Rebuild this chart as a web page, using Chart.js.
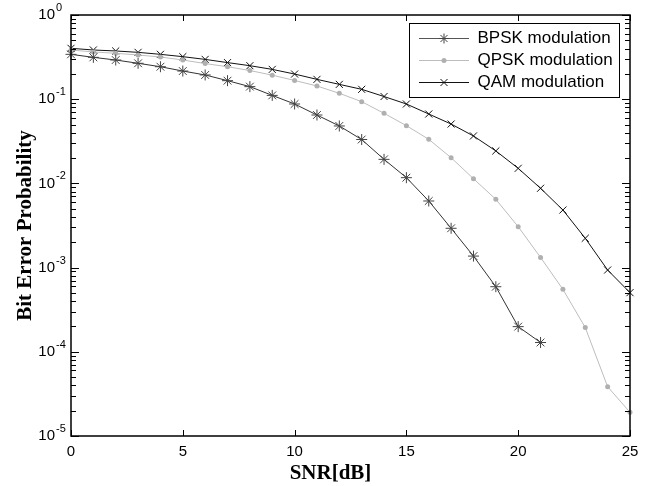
<!DOCTYPE html>
<html>
<head>
<meta charset="utf-8">
<script src="https://cdn.jsdelivr.net/npm/chart.js@4"></script>
<style>
  html, body { margin: 0; padding: 0; background: #fff; }
  #wrap { width: 651px; height: 486px; }
</style>
</head>
<body>
<div id="wrap"><canvas id="c" width="651" height="486"></canvas></div>
<script>
// ---- data ----
const snr = [0,1,2,3,4,5,6,7,8,9,10,11,12,13,14,15,16,17,18,19,20,21,22,23,24,25];
const bpsk = [0.341,0.314,0.292,0.267,0.243,0.216,0.194,0.166,0.141,0.111,0.0877,0.0649,0.0481,0.0332,0.0193,0.0117,0.00618,0.00293,0.00137,0.000593,0.000199,0.000129];
const qpsk = [0.384,0.364,0.351,0.335,0.317,0.292,0.265,0.243,0.219,0.193,0.167,0.1435,0.1175,0.0935,0.068,0.0485,0.0334,0.0202,0.01137,0.00647,0.00306,0.00132,0.000552,0.000194,0.0000385,0.0000191];
const qam = [0.402,0.384,0.374,0.360,0.341,0.320,0.297,0.272,0.250,0.226,0.199,0.172,0.150,0.131,0.1076,0.0877,0.0667,0.0507,0.0366,0.0243,0.0151,0.00875,0.00483,0.00223,0.000936,0.000504];
const seriesNames = ['BPSK modulation','QPSK modulation','QAM modulation'];
const xTicks = [0,5,10,15,20,25];
const yTickExponents = [0,-1,-2,-3,-4,-5];
const xTitle = 'SNR[dB]';
const yTitle = 'Bit Error Probability';

const pts = arr => arr.map((v, i) => ({x: snr[i], y: v}));

const COL_B = '#333333', COL_Q = '#bdbdbd', COL_A = '#111111';

function legendIcon(kind, lineColor, markColor) {
  const c = document.createElement('canvas');
  c.width = 50; c.height = 15;
  const g = c.getContext('2d');
  g.strokeStyle = lineColor; g.lineWidth = 1;
  g.beginPath(); g.moveTo(0, 7.5); g.lineTo(50, 7.5); g.stroke();
  g.strokeStyle = markColor; g.fillStyle = markColor;
  const cx = 25, cy = 7.5;
  if (kind === 'star') {
    const r = 5, d = r * Math.SQRT1_2;
    g.beginPath();
    g.moveTo(cx - r, cy); g.lineTo(cx + r, cy);
    g.moveTo(cx, cy - r); g.lineTo(cx, cy + r);
    g.moveTo(cx - d, cy - d); g.lineTo(cx + d, cy + d);
    g.moveTo(cx - d, cy + d); g.lineTo(cx + d, cy - d);
    g.stroke();
  } else if (kind === 'dot') {
    g.beginPath(); g.arc(cx, cy, 2.5, 0, Math.PI * 2); g.fill();
  } else {
    const d = 3.5;
    g.beginPath();
    g.moveTo(cx - d, cy - d); g.lineTo(cx + d, cy + d);
    g.moveTo(cx - d, cy + d); g.lineTo(cx + d, cy - d);
    g.stroke();
  }
  return c;
}
const icons = [legendIcon('star', '#555', '#444'), legendIcon('dot', COL_Q, '#b0b0b0'), legendIcon('cross', COL_A, COL_A)];

const decoration = {
  id: 'decoration',
  beforeDraw(chart) {
    const lg = chart.legend;
    if (lg) { lg.left = 414; lg.top = 25; lg.right = 619; lg.bottom = 97; lg.width = 205; lg.height = 72; }
  },
  afterDraw(chart) {
    const {ctx, chartArea: a, scales: {x, y}} = chart;
    ctx.save();
    ctx.strokeStyle = '#000';
    ctx.lineWidth = 1;
    // y ticks (major & minor), inward on both sides
    for (let e = -5; e <= 0; e++) {
      for (let m = 1; m <= 9; m++) {
        if (e === 0 && m > 1) break;
        const py = Math.round(y.getPixelForValue(m * Math.pow(10, e))) + 0.5;
        const len = m === 1 ? 8 : 5;
        ctx.beginPath();
        ctx.moveTo(a.left, py); ctx.lineTo(a.left + len, py);
        ctx.moveTo(a.right, py); ctx.lineTo(a.right - len, py);
        ctx.stroke();
      }
    }
    // x ticks
    xTicks.forEach(v => {
      const px = Math.round(x.getPixelForValue(v)) + 0.5;
      ctx.beginPath();
      ctx.moveTo(px, a.bottom); ctx.lineTo(px, a.bottom - 6);
      ctx.moveTo(px, a.top); ctx.lineTo(px, a.top + 6);
      ctx.stroke();
    });
    // exponents of the y tick labels (10^e)
    ctx.fillStyle = '#000';
    ctx.font = '11px "Liberation Sans"';
    ctx.textAlign = 'left';
    ctx.textBaseline = 'middle';
    yTickExponents.forEach(e => {
      const py = y.getPixelForValue(Math.pow(10, e));
      ctx.fillText(String(e), a.left - 15, py - 7);
    });
    // frame
    ctx.lineWidth = 1.5;
    ctx.strokeRect(a.left, a.top, a.right - a.left, a.bottom - a.top);
    // legend box
    ctx.lineWidth = 1;
    ctx.strokeRect(409.5, 23.5, 210, 74);
    ctx.restore();
  }
};

new Chart(document.getElementById('c'), {
  type: 'line',
  data: {
    datasets: [
      { label: seriesNames[0], data: pts(bpsk), borderColor: COL_B, borderWidth: 1, pointStyle: 'star', pointRadius: 5.5,
        pointBorderColor: '#444', pointBackgroundColor: '#444', pointBorderWidth: 1, fill: false, clip: false },
      { label: seriesNames[1], data: pts(qpsk), borderColor: COL_Q, borderWidth: 1, pointStyle: 'circle', pointRadius: 2.5,
        pointBorderColor: '#b0b0b0', pointBackgroundColor: '#b0b0b0', pointBorderWidth: 0, fill: false, clip: false },
      { label: seriesNames[2], data: pts(qam), borderColor: COL_A, borderWidth: 1, pointStyle: 'crossRot', pointRadius: 5,
        pointBorderColor: COL_A, pointBorderWidth: 1, fill: false, clip: false }
    ]
  },
  options: {
    responsive: false,
    animation: false,
    devicePixelRatio: 1,
    layout: { padding: { top: 15, right: 21, left: 0, bottom: 0 } },
    scales: {
      x: {
        type: 'linear', min: 0, max: 25,
        grid: { display: false, drawTicks: false },
        border: { display: false },
        afterBuildTicks: s => { s.ticks = xTicks.map(v => ({value: v})); },
        ticks: { autoSkip: false, color: '#000', padding: 7, font: { family: 'Liberation Sans', size: 15 } },
        title: { display: true, text: xTitle, color: '#000', padding: { top: 0, bottom: 0 },
                 font: { family: 'Liberation Serif', size: 21, weight: 'bold' } },
        afterFit: s => {
          s.height = 50;
          if (!s._shifted) {
            const orig = s.drawTitle.bind(s);
            s.drawTitle = function () { this.ctx.save(); this.ctx.translate(-20, 0); orig(); this.ctx.restore(); };
            s._shifted = true;
          }
        }
      },
      y: {
        type: 'logarithmic', min: 1e-5, max: 1,
        grid: { display: true, drawOnChartArea: false, drawTicks: true, tickLength: 14, color: 'rgba(0,0,0,0)' },
        border: { display: false },
        afterBuildTicks: s => { s.ticks = yTickExponents.map(e => ({value: Math.pow(10, e)})); },
        ticks: { autoSkip: false, color: '#000', padding: 2, font: { family: 'Liberation Sans', size: 15 },
                 callback: () => '10' },
        title: { display: true, text: yTitle, color: '#000', padding: { top: 13, bottom: 0 },
                 font: { family: 'Liberation Serif', size: 21, weight: 'bold' } },
        afterFit: s => { s.width = 71; }
      }
    },
    plugins: {
      tooltip: { enabled: false },
      legend: {
        position: 'chartArea', align: 'start',
        labels: {
          usePointStyle: true, pointStyleWidth: 50, padding: 5, color: '#000',
          font: { family: 'Liberation Sans', size: 17 },
          generateLabels: chart => chart.data.datasets.map((d, i) => ({
            text: d.label, pointStyle: icons[i], fillStyle: 'rgba(0,0,0,0)', strokeStyle: 'rgba(0,0,0,0)',
            lineWidth: 0, hidden: false, datasetIndex: i
          }))
        }
      }
    }
  },
  plugins: [decoration]
});
</script>
</body>
</html>
